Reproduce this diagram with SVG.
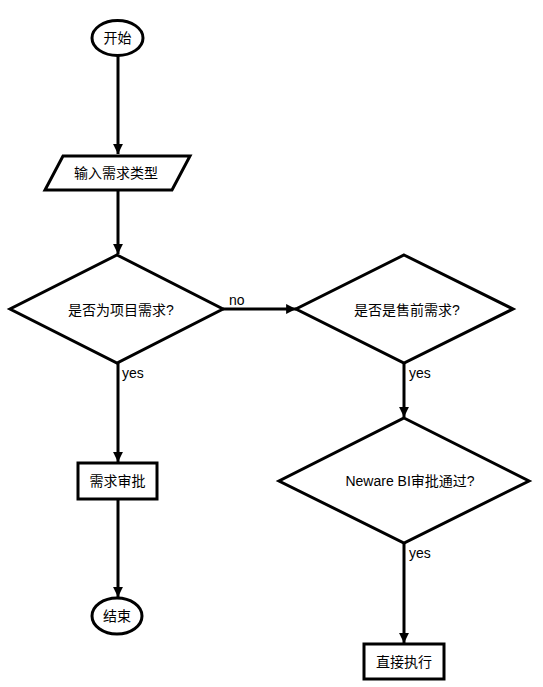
<svg xmlns="http://www.w3.org/2000/svg" width="543" height="687" viewBox="0 0 543 687">
<style>
.s{fill:#fff;stroke:#000;stroke-width:3}
.l{fill:none;stroke:#000;stroke-width:3}
text{font-family:"Liberation Sans","Noto Sans CJK SC",sans-serif;font-size:14px;fill:#000}
.c{text-anchor:middle;dominant-baseline:central}
</style>
<defs>
<marker id="a" viewBox="0 0 10 10" refX="10" refY="5" markerWidth="3.3" markerHeight="3.3" orient="auto" markerUnits="strokeWidth">
<path d="M0,0 L10,5 L0,10 Z" fill="#000"/>
</marker>
</defs>
<g id="connectors">
<line class="l" x1="118" y1="56" x2="118" y2="154" marker-end="url(#a)"/>
<line class="l" x1="118" y1="190" x2="118" y2="254" marker-end="url(#a)"/>
<line class="l" x1="223" y1="309" x2="296" y2="309" marker-end="url(#a)"/>
<text x="229" y="305">no</text>
<line class="l" x1="118" y1="363" x2="118" y2="462" marker-end="url(#a)"/>
<text x="122" y="378">yes</text>
<line class="l" x1="118" y1="499" x2="118" y2="597" marker-end="url(#a)"/>
<line class="l" x1="404" y1="363" x2="404" y2="417" marker-end="url(#a)"/>
<text x="409" y="378">yes</text>
<line class="l" x1="404" y1="543" x2="404" y2="643" marker-end="url(#a)"/>
<text x="409" y="558">yes</text>
</g>
<g id="start">
<ellipse class="s" cx="117.5" cy="38" rx="25.5" ry="17.5"/>
<text class="c" x="117.5" y="38">开始</text>
</g>
<g id="input">
<polygon class="s" points="63,156 190,156 172,190 45,190"/>
<text class="c" x="116" y="173">输入需求类型</text>
</g>
<g id="d1">
<polygon class="s" points="117,255 223,309 117,363 10,309"/>
<text class="c" x="121" y="310">是否为项目需求?</text>
</g>
<g id="d2">
<polygon class="s" points="404,255 513,309 404,363 296,309"/>
<text class="c" x="407" y="310">是否是售前需求?</text>
</g>
<g id="d3">
<polygon class="s" points="404,418 529,481 404,543 279,481"/>
<text class="c" x="410" y="481">Neware BI审批通过?</text>
</g>
<g id="approve">
<rect class="s" x="78" y="463" width="79" height="36"/>
<text class="c" x="117.5" y="481">需求审批</text>
</g>
<g id="end">
<ellipse class="s" cx="117" cy="616" rx="25" ry="18"/>
<text class="c" x="117" y="616">结束</text>
</g>
<g id="exec">
<rect class="s" x="364" y="644" width="80" height="35"/>
<text class="c" x="404" y="661.5">直接执行</text>
</g>
</svg>
